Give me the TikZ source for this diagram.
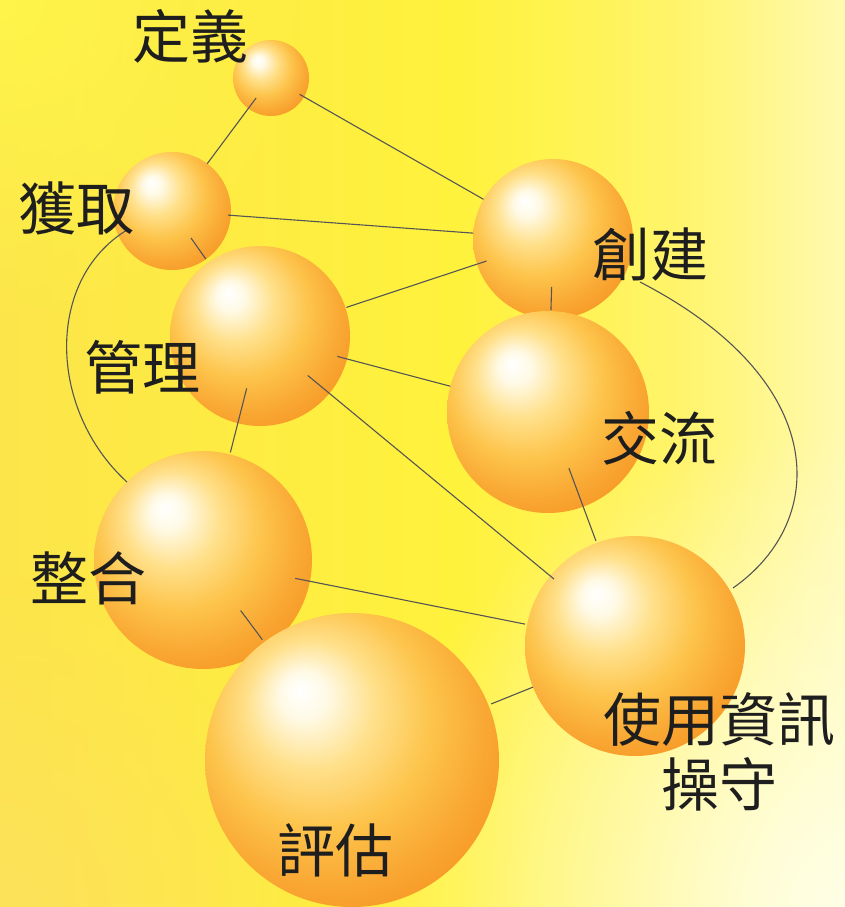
\documentclass[tikz,border=0pt]{standalone}
\usepackage{fontspec}
\setmainfont{Noto Sans CJK TC}
\usetikzlibrary{calc,fadings}
\definecolor{bgL}{HTML}{FCE54A}
\definecolor{bgM}{HTML}{FFF23C}
\definecolor{bgMM}{HTML}{FFF46A}
\definecolor{bgR}{HTML}{FFFAB0}
\definecolor{bgTL}{HTML}{FFF54A}
\definecolor{bgBL}{HTML}{FDE25A}
\definecolor{bgBR}{HTML}{FFFFE6}
\definecolor{sphW}{HTML}{FFFFFF}
\definecolor{sphV}{HTML}{FFFAE6}
\definecolor{sphA}{HTML}{FFE08A}
\definecolor{sphB}{HTML}{FDC44B}
\definecolor{sphC}{HTML}{F9A733}
\definecolor{sphD}{HTML}{F6901E}
\definecolor{sphE}{HTML}{F27E18}
\definecolor{linec}{HTML}{555555}
\definecolor{lblc}{HTML}{1E1E1E}
\tikzfading[name=softglow, inner color=transparent!0, outer color=transparent!100]
\pgfdeclareradialshading{sph}{\pgfpoint{-9bp}{12bp}}{color(0bp)=(sphW); color(4bp)=(sphV); color(11bp)=(sphA); color(19bp)=(sphB); color(27bp)=(sphC); color(35bp)=(sphD); color(42bp)=(sphE); color(50bp)=(sphE)}
\pgfdeclarehorizontalshading{bgh}{100bp}{color(0bp)=(bgL); color(25bp)=(bgL); color(52bp)=(bgM); color(65bp)=(bgMM); color(75bp)=(bgR); color(100bp)=(bgR)}
\begin{document}
\begin{tikzpicture}[x=1pt,y=-1pt,
  sphere/.style={circle, inner sep=0pt, shade, shading=sph},
  lbl/.style={text=lblc, font=\fontsize{58}{65}\selectfont, inner sep=0pt, align=center},
  link/.style={draw=linec, line width=1.1pt}]
\useasboundingbox (0,0) rectangle (845,907);
\begin{scope}
  \clip (0,0) rectangle (845,907);
  \shade[shading=bgh] (0,0) rectangle (845,907);
  \fill[bgTL, path fading=softglow] (0,0) circle (330);
  \fill[bgBL, path fading=softglow] (0,907) circle (330);
  \fill[bgBR, path fading=softglow] (845,907) circle (480);
\end{scope}
% spheres
\node[sphere, minimum size=76pt]  (def) at (271,78)  {};
\node[sphere, minimum size=118pt] (acq) at (172,211) {};
\node[sphere, minimum size=160pt] (cre) at (553,239) {};
\node[sphere, minimum size=180pt] (man) at (260,336) {};
\node[sphere, minimum size=202pt] (com) at (548,412) {};
\node[sphere, minimum size=218pt] (int) at (203,560) {};
\node[sphere, minimum size=220pt] (eth) at (635,646) {};
\node[sphere, minimum size=294pt] (eva) at (352,760) {};
% connectors
\draw[link, shorten <=25pt, shorten >=59pt]  (def.center) -- (acq.center);
\draw[link, shorten <=33pt, shorten >=80pt]  (def.center) -- (cre.center);
\draw[link, shorten <=56pt, shorten >=80pt]  (acq.center) -- (cre.center);
\draw[link, shorten <=33pt, shorten >=94pt]  (acq.center) -- (man.center);
\draw[link, shorten <=70pt, shorten >=91pt]  (cre.center) -- (man.center);
\draw[link, shorten <=48pt, shorten >=102pt] (cre.center) -- (com.center);
\draw[link, shorten <=80pt, shorten >=101pt] (man.center) -- (com.center);
\draw[link, shorten <=62pt, shorten >=105pt] (man.center) -- (eth.center);
\draw[link, shorten <=54pt, shorten >=111pt] (man.center) -- (int.center);
\draw[link, shorten <=60pt, shorten >=112pt] (com.center) -- (eth.center);
\draw[link, shorten <=94pt, shorten >=112pt] (int.center) -- (eth.center);
\draw[link, shorten <=63pt, shorten >=150pt] (int.center) -- (eva.center);
\draw[link, shorten <=150pt, shorten >=110pt] (eva.center) -- (eth.center);
\draw[link] ($(acq)+(-45,19)$) .. controls ($(acq)+(-127,69)$) and ($(int)+(-155,-150)$) .. ($(int)+(-76,-78)$);
\draw[link] ($(cre)+(87,43)$) .. controls ($(cre)+(277,141)$) and ($(eth)+(195,-126)$) .. ($(eth)+(98,-58)$);
% labels
\node[lbl] (tdef) at (190,36)  {定義};
\node[lbl] (tacq) at (76,208)  {獲取};
\node[lbl] (tcre) at (650,254) {創建};
\node[lbl] (tman) at (142,367) {管理};
\node[lbl] (tcom) at (659,438) {交流};
\node[lbl] (tint) at (88,578)  {整合};
\node[lbl] (teth) at (719,752) {使用資訊\\操守};
\node[lbl] (teva) at (335,850) {評估};
\end{tikzpicture}
\end{document}
